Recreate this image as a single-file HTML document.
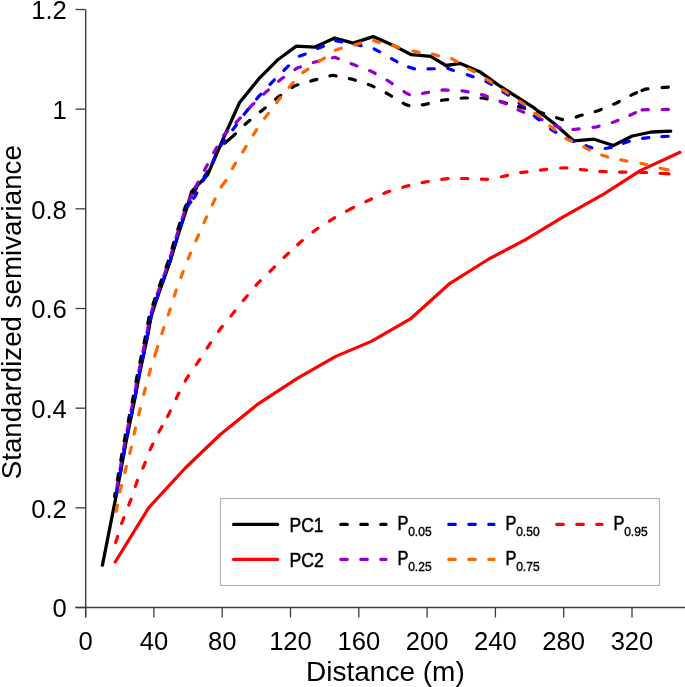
<!DOCTYPE html>
<html><head><meta charset="utf-8"><style>
html,body{margin:0;padding:0;background:#fff;}
svg{display:block;will-change:transform;}
text{font-family:"Liberation Sans",sans-serif;fill:#000;}
.tl{font-size:25.6px;}
.at{font-size:28px;}
.lg{font-size:20px;stroke:#000;stroke-width:0.55px;}
.sb{font-size:12.4px;stroke:#000;stroke-width:0.4px;}
</style></head><body>
<svg width="685" height="687" viewBox="0 0 685 687">
<rect width="685" height="687" fill="#fff"/>
<line x1="85.7" y1="9.5" x2="85.7" y2="617.5" stroke="#3c3c3c" stroke-width="1.4"/>
<line x1="75.5" y1="607.5" x2="685" y2="607.5" stroke="#3c3c3c" stroke-width="1.3"/>
<line x1="75.5" y1="607.50" x2="85.5" y2="607.50" stroke="#3c3c3c" stroke-width="1.3"/>
<text x="66.8" y="617.30" text-anchor="end" class="tl">0</text>
<line x1="75.5" y1="507.83" x2="85.5" y2="507.83" stroke="#3c3c3c" stroke-width="1.3"/>
<text x="66.8" y="517.63" text-anchor="end" class="tl">0.2</text>
<line x1="75.5" y1="408.17" x2="85.5" y2="408.17" stroke="#3c3c3c" stroke-width="1.3"/>
<text x="66.8" y="417.97" text-anchor="end" class="tl">0.4</text>
<line x1="75.5" y1="308.50" x2="85.5" y2="308.50" stroke="#3c3c3c" stroke-width="1.3"/>
<text x="66.8" y="318.30" text-anchor="end" class="tl">0.6</text>
<line x1="75.5" y1="208.84" x2="85.5" y2="208.84" stroke="#3c3c3c" stroke-width="1.3"/>
<text x="66.8" y="218.64" text-anchor="end" class="tl">0.8</text>
<line x1="75.5" y1="109.17" x2="85.5" y2="109.17" stroke="#3c3c3c" stroke-width="1.3"/>
<text x="66.8" y="118.97" text-anchor="end" class="tl">1</text>
<line x1="75.5" y1="9.50" x2="85.5" y2="9.50" stroke="#3c3c3c" stroke-width="1.3"/>
<text x="66.8" y="19.30" text-anchor="end" class="tl">1.2</text>
<line x1="85.60" y1="607.5" x2="85.60" y2="617.5" stroke="#3c3c3c" stroke-width="1.3"/>
<text x="85.60" y="650.4" text-anchor="middle" class="tl">0</text>
<line x1="153.90" y1="607.5" x2="153.90" y2="617.5" stroke="#3c3c3c" stroke-width="1.3"/>
<text x="153.90" y="650.4" text-anchor="middle" class="tl">40</text>
<line x1="222.20" y1="607.5" x2="222.20" y2="617.5" stroke="#3c3c3c" stroke-width="1.3"/>
<text x="222.20" y="650.4" text-anchor="middle" class="tl">80</text>
<line x1="290.50" y1="607.5" x2="290.50" y2="617.5" stroke="#3c3c3c" stroke-width="1.3"/>
<text x="290.50" y="650.4" text-anchor="middle" class="tl">120</text>
<line x1="358.80" y1="607.5" x2="358.80" y2="617.5" stroke="#3c3c3c" stroke-width="1.3"/>
<text x="358.80" y="650.4" text-anchor="middle" class="tl">160</text>
<line x1="427.10" y1="607.5" x2="427.10" y2="617.5" stroke="#3c3c3c" stroke-width="1.3"/>
<text x="427.10" y="650.4" text-anchor="middle" class="tl">200</text>
<line x1="495.40" y1="607.5" x2="495.40" y2="617.5" stroke="#3c3c3c" stroke-width="1.3"/>
<text x="495.40" y="650.4" text-anchor="middle" class="tl">240</text>
<line x1="563.70" y1="607.5" x2="563.70" y2="617.5" stroke="#3c3c3c" stroke-width="1.3"/>
<text x="563.70" y="650.4" text-anchor="middle" class="tl">280</text>
<line x1="632.00" y1="607.5" x2="632.00" y2="617.5" stroke="#3c3c3c" stroke-width="1.3"/>
<text x="632.00" y="650.4" text-anchor="middle" class="tl">320</text>
<text x="385.4" y="680.8" text-anchor="middle" class="at">Distance (m)</text>
<text transform="translate(20.6,312.2) rotate(-90)" x="0" y="0" text-anchor="middle" class="at" style="font-size:27.7px">Standardized semivariance</text>
<polyline points="102.4,565.2 116.5,494.0 126.0,442.0 134.8,399.0 139.6,373.3 144.4,350.9 148.4,331.7 151.0,317.0 156.4,300.0 170.1,261.5 179.3,231.0 187.4,206.5 191.6,191.6 207.6,174.8 222.8,139.6 239.6,102.5 259.7,77.8 277.2,60.3 296.3,46.1 314.5,47.2 334.7,38.0 353.1,43.1 373.2,36.6 393.4,45.4 411.4,54.7 430.7,56.4 445.9,65.5 460.4,63.4 479.7,71.7 498.1,84.8 534.5,108.2 554.7,124.0 573.9,140.9 594.1,139.2 613.4,145.5 632.3,136.0 651.5,132.0 670.7,131.1" fill="none" stroke="#000000" stroke-width="3.3" stroke-linejoin="round" stroke-linecap="round"/>
<polyline points="115.2,562.0 148.6,507.9 185.3,468.0 220.3,434.5 258.2,403.8 297.7,378.1 335.3,356.6 371.8,341.1 411.2,318.3 450.0,283.3 488.8,259.0 525.5,239.7 563.2,216.9 604.5,193.6 640.2,170.6 680.0,152.3" fill="none" stroke="#ff0000" stroke-width="3.2" stroke-linejoin="round" stroke-linecap="round"/>
<polyline points="114.6,496.4 124.0,442.0 132.8,399.0 135.7,383.4" fill="none" stroke="#000000" stroke-width="3.2" stroke-linejoin="round" stroke-dasharray="6.3 13.5" stroke-linecap="round" stroke-dashoffset="-16.6"/>
<polyline points="135.7,383.4 137.6,373.3 142.4,350.9 146.4,331.7 149.0,317.0 154.4,300.0 168.1,261.5 177.3,231.0 185.4,206.5 191.5,196.0 199.6,183.1 207.6,172.0 220.0,147.0 229.5,139.1" fill="none" stroke="#000000" stroke-width="3.2" stroke-linejoin="round" stroke-dasharray="6.3 13.5" stroke-linecap="round" stroke-dashoffset="-1.6"/>
<polyline points="229.5,139.1 232.6,136.5 246.6,123.0 262.3,110.3 278.1,97.1 290.9,88.4" fill="none" stroke="#000000" stroke-width="3.2" stroke-linejoin="round" stroke-dasharray="6.3 13.5" stroke-linecap="round" stroke-dashoffset="-1.6"/>
<polyline points="290.9,88.4 294.8,85.7 313.0,80.4 332.5,75.2 347.8,78.3" fill="none" stroke="#000000" stroke-width="3.2" stroke-linejoin="round" stroke-dasharray="6.3 13.5" stroke-linecap="round" stroke-dashoffset="-1.6"/>
<polyline points="347.8,78.3 351.7,79.1 371.0,85.3 388.0,94.0 401.8,102.4" fill="none" stroke="#000000" stroke-width="3.2" stroke-linejoin="round" stroke-dasharray="6.3 13.5" stroke-linecap="round" stroke-dashoffset="-1.6"/>
<polyline points="401.8,102.4 405.0,104.3 411.0,106.3 424.0,104.7 443.3,100.0 459.6,98.4" fill="none" stroke="#000000" stroke-width="3.2" stroke-linejoin="round" stroke-dasharray="6.3 13.5" stroke-linecap="round" stroke-dashoffset="-1.6"/>
<polyline points="459.6,98.4 463.5,98.0 482.7,98.0 500.0,101.5 517.0,106.2" fill="none" stroke="#000000" stroke-width="3.2" stroke-linejoin="round" stroke-dasharray="6.3 13.5" stroke-linecap="round" stroke-dashoffset="-1.6"/>
<polyline points="517.0,106.2 521.0,107.3 540.6,112.5 559.5,118.7 567.0,121.0 574.8,117.7" fill="none" stroke="#000000" stroke-width="3.2" stroke-linejoin="round" stroke-dasharray="6.3 13.5" stroke-linecap="round" stroke-dashoffset="-1.6"/>
<polyline points="574.8,117.7 578.8,116.0 598.0,110.8 616.5,103.0 629.4,96.1" fill="none" stroke="#000000" stroke-width="3.2" stroke-linejoin="round" stroke-dasharray="6.3 13.5" stroke-linecap="round" stroke-dashoffset="-1.6"/>
<polyline points="629.4,96.1 633.6,93.9 640.5,91.1" fill="none" stroke="#000000" stroke-width="3.2" stroke-linejoin="round" stroke-dasharray="6.3 13.5" stroke-linecap="round" stroke-dashoffset="-1.6"/>
<polyline points="640.5,91.1 645.0,89.2 660.5,87.8" fill="none" stroke="#000000" stroke-width="3.2" stroke-linejoin="round" stroke-dasharray="6.3 13.5" stroke-linecap="round" stroke-dashoffset="-1.6"/>
<polyline points="660.5,87.8 669.0,87.1" fill="none" stroke="#000000" stroke-width="3.2" stroke-linejoin="round" stroke-dasharray="6.3 13.5" stroke-linecap="round" stroke-dashoffset="-1.6"/>
<polyline points="115.3,496.4 124.8,442.0 133.6,399.0 134.9,392.0" fill="none" stroke="#9400d3" stroke-width="3.2" stroke-linejoin="round" stroke-dasharray="6.3 13.5" stroke-linecap="round" stroke-dashoffset="-7.6"/>
<polyline points="134.9,392.0 138.4,373.3 143.2,350.9 147.2,331.7 149.8,317.0 155.2,300.0 168.9,261.5 178.1,231.0 186.2,206.5 194.5,189.2" fill="none" stroke="#9400d3" stroke-width="3.2" stroke-linejoin="round" stroke-dasharray="6.3 13.5" stroke-linecap="round" stroke-dashoffset="-1.6"/>
<polyline points="194.5,189.2 195.6,186.8 204.8,169.6 214.4,151.6 224.0,134.8 234.9,123.6" fill="none" stroke="#9400d3" stroke-width="3.2" stroke-linejoin="round" stroke-dasharray="6.3 13.5" stroke-linecap="round" stroke-dashoffset="-1.6"/>
<polyline points="234.9,123.6 237.6,120.8 251.2,106.0 266.0,92.0 281.6,78.7 293.5,70.5" fill="none" stroke="#9400d3" stroke-width="3.2" stroke-linejoin="round" stroke-dasharray="6.3 13.5" stroke-linecap="round" stroke-dashoffset="-1.6"/>
<polyline points="293.5,70.5 297.0,68.1 315.0,62.0 334.7,57.2 349.6,63.1" fill="none" stroke="#9400d3" stroke-width="3.2" stroke-linejoin="round" stroke-dasharray="6.3 13.5" stroke-linecap="round" stroke-dashoffset="-1.6"/>
<polyline points="349.6,63.1 353.5,64.6 371.9,71.6 389.5,81.7 402.6,90.7" fill="none" stroke="#9400d3" stroke-width="3.2" stroke-linejoin="round" stroke-dasharray="6.3 13.5" stroke-linecap="round" stroke-dashoffset="-1.6"/>
<polyline points="402.6,90.7 406.0,93.0 412.0,95.8 425.0,92.9 444.3,89.8 460.4,90.8" fill="none" stroke="#9400d3" stroke-width="3.2" stroke-linejoin="round" stroke-dasharray="6.3 13.5" stroke-linecap="round" stroke-dashoffset="-1.6"/>
<polyline points="460.4,90.8 464.4,91.1 483.7,95.1 502.5,102.2 516.5,109.1" fill="none" stroke="#9400d3" stroke-width="3.2" stroke-linejoin="round" stroke-dasharray="6.3 13.5" stroke-linecap="round" stroke-dashoffset="-1.6"/>
<polyline points="516.5,109.1 519.6,110.6 538.0,117.8 552.9,124.7" fill="none" stroke="#9400d3" stroke-width="3.2" stroke-linejoin="round" stroke-dasharray="6.3 13.5" stroke-linecap="round" stroke-dashoffset="-1.6"/>
<polyline points="552.9,124.7 556.8,126.5 566.0,129.6 571.3,129.4" fill="none" stroke="#9400d3" stroke-width="3.2" stroke-linejoin="round" stroke-dasharray="6.3 13.5" stroke-linecap="round" stroke-dashoffset="-1.6"/>
<polyline points="571.3,129.4 575.2,129.3 591.4,127.6" fill="none" stroke="#9400d3" stroke-width="3.2" stroke-linejoin="round" stroke-dasharray="6.3 13.5" stroke-linecap="round" stroke-dashoffset="-1.6"/>
<polyline points="591.4,127.6 595.4,127.2 610.7,122.9" fill="none" stroke="#9400d3" stroke-width="3.2" stroke-linejoin="round" stroke-dasharray="6.3 13.5" stroke-linecap="round" stroke-dashoffset="-1.6"/>
<polyline points="610.7,122.9 614.6,121.8 628.4,115.9" fill="none" stroke="#9400d3" stroke-width="3.2" stroke-linejoin="round" stroke-dasharray="6.3 13.5" stroke-linecap="round" stroke-dashoffset="-1.6"/>
<polyline points="628.4,115.9 632.7,114.0 640.5,110.1" fill="none" stroke="#9400d3" stroke-width="3.2" stroke-linejoin="round" stroke-dasharray="6.3 13.5" stroke-linecap="round" stroke-dashoffset="-1.6"/>
<polyline points="640.5,110.1 641.0,109.8 660.5,109.5" fill="none" stroke="#9400d3" stroke-width="3.2" stroke-linejoin="round" stroke-dasharray="6.3 13.5" stroke-linecap="round" stroke-dashoffset="-1.6"/>
<polyline points="660.5,109.5 669.0,109.4" fill="none" stroke="#9400d3" stroke-width="3.2" stroke-linejoin="round" stroke-dasharray="6.3 13.5" stroke-linecap="round" stroke-dashoffset="-1.6"/>
<polyline points="116.2,496.4 125.9,442.0 134.7,399.0 138.3,379.8" fill="none" stroke="#0000ff" stroke-width="3.2" stroke-linejoin="round" stroke-dasharray="6.3 13.5" stroke-linecap="round" stroke-dashoffset="-1.6"/>
<polyline points="138.3,379.8 139.5,373.3 144.3,350.9 148.3,331.7 150.9,317.0 156.3,300.0 170.0,261.5 179.2,231.0 187.3,206.5 192.6,199.6" fill="none" stroke="#0000ff" stroke-width="3.2" stroke-linejoin="round" stroke-dasharray="6.3 13.5" stroke-linecap="round" stroke-dashoffset="-1.6"/>
<polyline points="192.6,199.6 194.8,196.8 203.6,179.6 212.8,162.0 221.2,144.8 233.2,129.2 243.2,115.6" fill="none" stroke="#0000ff" stroke-width="3.2" stroke-linejoin="round" stroke-dasharray="6.3 13.5" stroke-linecap="round" stroke-dashoffset="-1.6"/>
<polyline points="243.2,115.6 245.6,112.4 258.4,96.8 272.9,81.3 286.9,67.3 297.9,56.9" fill="none" stroke="#0000ff" stroke-width="3.2" stroke-linejoin="round" stroke-dasharray="6.3 13.5" stroke-linecap="round" stroke-dashoffset="-1.6"/>
<polyline points="297.9,56.9 298.3,56.5 304.9,54.2 316.3,48.9 323.3,46.3 335.0,40.5 341.7,41.9 359.0,45.2 372.3,48.0 380.2,52.1 389.9,57.7 396.9,61.7 407.0,66.4" fill="none" stroke="#0000ff" stroke-width="3.2" stroke-linejoin="round" stroke-dasharray="6.3 13.5" stroke-linecap="round" stroke-dashoffset="-1.6"/>
<polyline points="407.0,66.4 414.9,69.0 427.2,69.0 435.0,68.7 446.4,67.7 454.3,70.8 465.7,74.3" fill="none" stroke="#0000ff" stroke-width="3.2" stroke-linejoin="round" stroke-dasharray="6.3 13.5" stroke-linecap="round" stroke-dashoffset="-1.6"/>
<polyline points="465.7,74.3 473.6,76.9 484.1,80.4 492.0,84.8 501.6,91.0" fill="none" stroke="#0000ff" stroke-width="3.2" stroke-linejoin="round" stroke-dasharray="6.3 13.5" stroke-linecap="round" stroke-dashoffset="-1.6"/>
<polyline points="501.6,91.0 508.6,95.3 518.0,102.5 524.9,107.3 536.3,117.8 549.3,128.0" fill="none" stroke="#0000ff" stroke-width="3.2" stroke-linejoin="round" stroke-dasharray="6.3 13.5" stroke-linecap="round" stroke-dashoffset="-1.6"/>
<polyline points="549.3,128.0 552.0,130.1 570.0,140.0 584.4,145.2" fill="none" stroke="#0000ff" stroke-width="3.2" stroke-linejoin="round" stroke-dasharray="6.3 13.5" stroke-linecap="round" stroke-dashoffset="-1.6"/>
<polyline points="584.4,145.2 588.0,146.5 598.0,149.8 603.6,148.8" fill="none" stroke="#0000ff" stroke-width="3.2" stroke-linejoin="round" stroke-dasharray="6.3 13.5" stroke-linecap="round" stroke-dashoffset="-1.6"/>
<polyline points="603.6,148.8 611.4,147.3 621.8,143.8" fill="none" stroke="#0000ff" stroke-width="3.2" stroke-linejoin="round" stroke-dasharray="6.3 13.5" stroke-linecap="round" stroke-dashoffset="-1.6"/>
<polyline points="621.8,143.8 629.7,141.2 641.0,138.6" fill="none" stroke="#0000ff" stroke-width="3.2" stroke-linejoin="round" stroke-dasharray="6.3 13.5" stroke-linecap="round" stroke-dashoffset="-1.6"/>
<polyline points="641.0,138.6 648.9,137.7 660.3,136.8" fill="none" stroke="#0000ff" stroke-width="3.2" stroke-linejoin="round" stroke-dasharray="6.3 13.5" stroke-linecap="round" stroke-dashoffset="-1.6"/>
<polyline points="660.3,136.8 669.0,136.2" fill="none" stroke="#0000ff" stroke-width="3.2" stroke-linejoin="round" stroke-dasharray="6.3 13.5" stroke-linecap="round" stroke-dashoffset="-1.6"/>
<polyline points="116.0,512.8 120.0,491.5 125.3,470.5 130.8,449.4 135.0,429.8 143.4,395.9" fill="none" stroke="#ff6600" stroke-width="3.2" stroke-linejoin="round" stroke-dasharray="6.3 13.5" stroke-linecap="round" stroke-dashoffset="-1.6"/>
<polyline points="143.4,395.9 144.2,392.6 148.5,376.7" fill="none" stroke="#ff6600" stroke-width="3.2" stroke-linejoin="round" stroke-dasharray="6.3 13.5" stroke-linecap="round" stroke-dashoffset="-1.6"/>
<polyline points="148.5,376.7 149.8,371.7 155.3,354.0" fill="none" stroke="#ff6600" stroke-width="3.2" stroke-linejoin="round" stroke-dasharray="6.3 13.5" stroke-linecap="round" stroke-dashoffset="-1.6"/>
<polyline points="155.3,354.0 156.3,350.9 162.7,330.9 169.1,312.4 176.2,290.0 182.3,273.7 189.5,255.4 197.6,237.0 205.8,218.7 213.9,201.4 221.2,186.8" fill="none" stroke="#ff6600" stroke-width="3.2" stroke-linejoin="round" stroke-dasharray="6.3 13.5" stroke-linecap="round" stroke-dashoffset="-1.6"/>
<polyline points="221.2,186.8 226.0,180.4 231.6,170.0 235.6,162.8 242.0,153.2 246.8,145.2 252.4,136.4 257.2,128.4 263.6,119.6" fill="none" stroke="#ff6600" stroke-width="3.2" stroke-linejoin="round" stroke-dasharray="6.3 13.5" stroke-linecap="round" stroke-dashoffset="-1.6"/>
<polyline points="263.6,119.6 269.2,112.4 278.1,100.6 291.2,84.8 301.4,73.4" fill="none" stroke="#ff6600" stroke-width="3.2" stroke-linejoin="round" stroke-dasharray="6.3 13.5" stroke-linecap="round" stroke-dashoffset="-1.6"/>
<polyline points="301.4,73.4 308.4,69.0 318.0,62.0 325.0,57.7 333.8,50.7 341.7,48.0 353.0,45.4" fill="none" stroke="#ff6600" stroke-width="3.2" stroke-linejoin="round" stroke-dasharray="6.3 13.5" stroke-linecap="round" stroke-dashoffset="-1.6"/>
<polyline points="353.0,45.4 361.0,42.8 372.3,40.1 380.2,42.8 392.5,45.4 399.5,47.7 411.4,50.7" fill="none" stroke="#ff6600" stroke-width="3.2" stroke-linejoin="round" stroke-dasharray="6.3 13.5" stroke-linecap="round" stroke-dashoffset="-1.6"/>
<polyline points="411.4,50.7 419.3,52.4 430.7,53.6 438.9,55.9 449.9,57.7 457.8,62.0 467.4,68.2" fill="none" stroke="#ff6600" stroke-width="3.2" stroke-linejoin="round" stroke-dasharray="6.3 13.5" stroke-linecap="round" stroke-dashoffset="-1.6"/>
<polyline points="467.4,68.2 474.5,71.7 484.1,77.8 491.1,82.2 501.6,89.2 508.6,93.6 517.9,100.3" fill="none" stroke="#ff6600" stroke-width="3.2" stroke-linejoin="round" stroke-dasharray="6.3 13.5" stroke-linecap="round" stroke-dashoffset="-1.6"/>
<polyline points="517.9,100.3 524.9,104.7 533.7,112.6 540.7,116.9 549.4,125.7 556.4,131.0 564.3,138.0" fill="none" stroke="#ff6600" stroke-width="3.2" stroke-linejoin="round" stroke-dasharray="6.3 13.5" stroke-linecap="round" stroke-dashoffset="-1.6"/>
<polyline points="564.3,138.0 572.2,141.5 581.8,145.8 589.7,150.2 600.2,154.6" fill="none" stroke="#ff6600" stroke-width="3.2" stroke-linejoin="round" stroke-dasharray="6.3 13.5" stroke-linecap="round" stroke-dashoffset="-1.6"/>
<polyline points="600.2,154.6 608.1,157.2 619.2,159.5" fill="none" stroke="#ff6600" stroke-width="3.2" stroke-linejoin="round" stroke-dasharray="6.3 13.5" stroke-linecap="round" stroke-dashoffset="-1.6"/>
<polyline points="619.2,159.5 619.5,159.6 627.4,161.2 639.3,163.1" fill="none" stroke="#ff6600" stroke-width="3.2" stroke-linejoin="round" stroke-dasharray="6.3 13.5" stroke-linecap="round" stroke-dashoffset="-1.6"/>
<polyline points="639.3,163.1 647.2,164.8 660.3,168.3" fill="none" stroke="#ff6600" stroke-width="3.2" stroke-linejoin="round" stroke-dasharray="6.3 13.5" stroke-linecap="round" stroke-dashoffset="-1.6"/>
<polyline points="660.3,168.3 668.3,169.8" fill="none" stroke="#ff6600" stroke-width="3.2" stroke-linejoin="round" stroke-dasharray="6.3 13.5" stroke-linecap="round" stroke-dashoffset="-1.6"/>
<polyline points="115.2,544.0 121.8,523.0 130.9,499.6 137.5,480.0 144.0,465.5 150.6,448.5 158.4,432.8 166.7,417.9" fill="none" stroke="#ff0000" stroke-width="3.2" stroke-linejoin="round" stroke-dasharray="6.3 13.5" stroke-linecap="round" stroke-dashoffset="-1.6"/>
<polyline points="166.7,417.9 168.7,414.4 177.1,396.6 186.4,378.8 197.6,362.7 208.6,345.8 217.6,332.7" fill="none" stroke="#ff0000" stroke-width="3.2" stroke-linejoin="round" stroke-dasharray="6.3 13.5" stroke-linecap="round" stroke-dashoffset="-1.6"/>
<polyline points="217.6,332.7 219.9,329.3 232.5,314.0 242.3,301.8" fill="none" stroke="#ff0000" stroke-width="3.2" stroke-linejoin="round" stroke-dasharray="6.3 13.5" stroke-linecap="round" stroke-dashoffset="-1.6"/>
<polyline points="242.3,301.8 245.0,298.4 257.8,283.2 272.3,269.2 286.3,255.2 296.5,245.8" fill="none" stroke="#ff0000" stroke-width="3.2" stroke-linejoin="round" stroke-dasharray="6.3 13.5" stroke-linecap="round" stroke-dashoffset="-1.6"/>
<polyline points="296.5,245.8 300.3,242.3 316.3,229.4 333.2,218.6 346.6,211.1" fill="none" stroke="#ff0000" stroke-width="3.2" stroke-linejoin="round" stroke-dasharray="6.3 13.5" stroke-linecap="round" stroke-dashoffset="-1.6"/>
<polyline points="346.6,211.1 349.9,209.3 368.8,200.2 386.4,192.3 401.3,187.7" fill="none" stroke="#ff0000" stroke-width="3.2" stroke-linejoin="round" stroke-dasharray="6.3 13.5" stroke-linecap="round" stroke-dashoffset="-1.6"/>
<polyline points="401.3,187.7 405.3,186.5 424.3,182.1 440.2,179.7" fill="none" stroke="#ff0000" stroke-width="3.2" stroke-linejoin="round" stroke-dasharray="6.3 13.5" stroke-linecap="round" stroke-dashoffset="-1.6"/>
<polyline points="440.2,179.7 443.3,179.2 450.0,178.4 464.6,178.5 488.0,179.3 499.8,177.1" fill="none" stroke="#ff0000" stroke-width="3.2" stroke-linejoin="round" stroke-dasharray="6.3 13.5" stroke-linecap="round" stroke-dashoffset="-1.6"/>
<polyline points="499.8,177.1 519.2,172.8 539.0,170.3 559.0,168.0" fill="none" stroke="#ff0000" stroke-width="3.2" stroke-linejoin="round" stroke-dasharray="6.3 13.5" stroke-linecap="round" stroke-dashoffset="-1.6"/>
<polyline points="559.0,168.0 567.0,167.9 578.6,169.3 598.0,171.4 598.3,171.4" fill="none" stroke="#ff0000" stroke-width="3.2" stroke-linejoin="round" stroke-dasharray="6.3 13.5" stroke-linecap="round" stroke-dashoffset="-1.6"/>
<polyline points="598.3,171.4 618.0,172.1" fill="none" stroke="#ff0000" stroke-width="3.2" stroke-linejoin="round" stroke-dasharray="6.3 13.5" stroke-linecap="round" stroke-dashoffset="-1.6"/>
<polyline points="618.0,172.1 638.7,172.4" fill="none" stroke="#ff0000" stroke-width="3.2" stroke-linejoin="round" stroke-dasharray="6.3 13.5" stroke-linecap="round" stroke-dashoffset="-1.6"/>
<polyline points="638.7,172.4 648.0,172.5 661.0,173.3 661.4,173.3" fill="none" stroke="#ff0000" stroke-width="3.2" stroke-linejoin="round" stroke-dasharray="6.3 13.5" stroke-linecap="round" stroke-dashoffset="-1.6"/>
<polyline points="661.4,173.3 669.0,173.8" fill="none" stroke="#ff0000" stroke-width="3.2" stroke-linejoin="round" stroke-dasharray="6.3 13.5" stroke-linecap="round" stroke-dashoffset="-1.6"/>
<rect x="220.5" y="498.5" width="439" height="87" fill="#fff" stroke="#b4b4b4" stroke-width="1.2"/>
<line x1="233.6" y1="524.4" x2="277.7" y2="524.4" stroke="#000000" stroke-width="3.2" stroke-linecap="round"/>
<line x1="233.6" y1="559.4" x2="277.7" y2="559.4" stroke="#ff0000" stroke-width="3.2" stroke-linecap="round"/>
<text x="289.6" y="531.6999999999999" class="lg" textLength="34" lengthAdjust="spacingAndGlyphs">PC1</text>
<text x="289.6" y="566.6999999999999" class="lg" textLength="34.3" lengthAdjust="spacingAndGlyphs">PC2</text>
<line x1="340.8" y1="524.4" x2="386.0" y2="524.4" stroke="#000000" stroke-width="3.2" stroke-dasharray="6.5 13.5" stroke-linecap="round"/><text x="397.6" y="530.0" class="lg" textLength="10.95" lengthAdjust="spacingAndGlyphs">P</text><text x="408.2" y="535.6" class="sb" textLength="23.4" lengthAdjust="spacingAndGlyphs">0.05</text>
<line x1="448.8" y1="524.4" x2="494.0" y2="524.4" stroke="#0000ff" stroke-width="3.2" stroke-dasharray="6.5 13.5" stroke-linecap="round"/><text x="505.6" y="530.0" class="lg" textLength="10.95" lengthAdjust="spacingAndGlyphs">P</text><text x="516.2" y="535.6" class="sb" textLength="23.4" lengthAdjust="spacingAndGlyphs">0.50</text>
<line x1="556.8000000000001" y1="524.4" x2="602.0" y2="524.4" stroke="#ff0000" stroke-width="3.2" stroke-dasharray="6.5 13.5" stroke-linecap="round"/><text x="613.6" y="530.0" class="lg" textLength="10.95" lengthAdjust="spacingAndGlyphs">P</text><text x="624.2" y="535.6" class="sb" textLength="23.4" lengthAdjust="spacingAndGlyphs">0.95</text>
<line x1="340.8" y1="559.4" x2="386.0" y2="559.4" stroke="#9400d3" stroke-width="3.2" stroke-dasharray="6.5 13.5" stroke-linecap="round"/><text x="397.6" y="565.0" class="lg" textLength="10.95" lengthAdjust="spacingAndGlyphs">P</text><text x="408.2" y="570.6" class="sb" textLength="23.4" lengthAdjust="spacingAndGlyphs">0.25</text>
<line x1="448.8" y1="559.4" x2="494.0" y2="559.4" stroke="#ff6600" stroke-width="3.2" stroke-dasharray="6.5 13.5" stroke-linecap="round"/><text x="505.6" y="565.0" class="lg" textLength="10.95" lengthAdjust="spacingAndGlyphs">P</text><text x="516.2" y="570.6" class="sb" textLength="23.4" lengthAdjust="spacingAndGlyphs">0.75</text>
</svg>
</body></html>
